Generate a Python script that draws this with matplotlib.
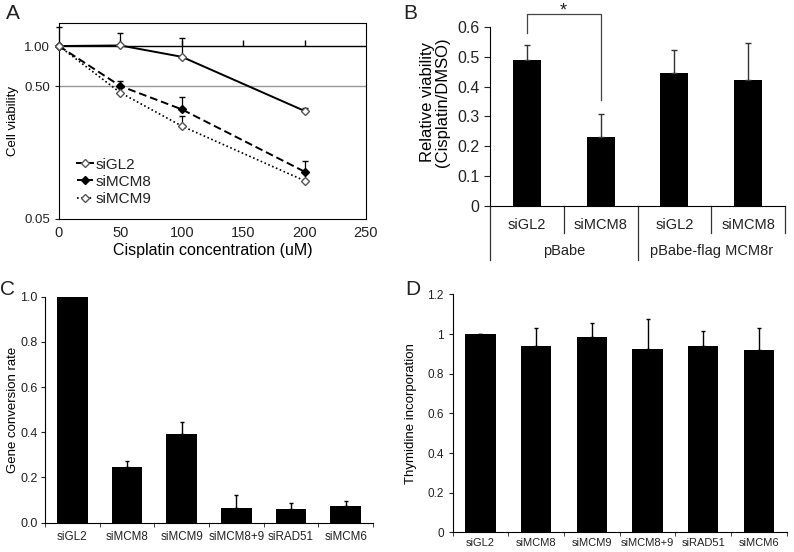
import numpy as np
import matplotlib
matplotlib.use("Agg")
import matplotlib.pyplot as plt
from matplotlib.lines import Line2D
from matplotlib.ticker import FuncFormatter, NullLocator

plt.rcParams['font.family'] = ['Liberation Sans', 'DejaVu Sans']
plt.rcParams['text.color'] = '#222222'
plt.rcParams['xtick.color'] = '#222222'
plt.rcParams['ytick.color'] = '#222222'

# ---- panel A data: cell viability vs cisplatin
conc = [0, 50, 100, 200]
via_gl2 = [1.0, 1.01, 0.83, 0.325]
err_gl2 = [0.38, 0.24, 0.325, 0.019]
via_mcm8 = [1.0, 0.50, 0.334, 0.1135]
err_mcm8 = [0.0, 0.05, 0.082, 0.022]
via_mcm9 = [1.0, 0.446, 0.25, 0.097]
err_mcm9 = [0.0, 0.0, 0.048, 0.0]
a_xticks = [0, 50, 100, 150, 200, 250]

# ---- panel B data
b_labels = ['siGL2', 'siMCM8', 'siGL2', 'siMCM8']
b_groups = ['pBabe', 'pBabe-flag MCM8r']
b_vals = [0.49, 0.232, 0.447, 0.424]
b_err = [0.05, 0.078, 0.076, 0.124]

# ---- panel C data
c_labels = ['siGL2', 'siMCM8', 'siMCM9', 'siMCM8+9', 'siRAD51', 'siMCM6']
c_vals = [1.0, 0.245, 0.394, 0.064, 0.061, 0.073]
c_err = [0.003, 0.028, 0.050, 0.059, 0.027, 0.022]

# ---- panel D data
d_labels = ['siGL2', 'siMCM8', 'siMCM9', 'siMCM8+9', 'siRAD51', 'siMCM6']
d_vals = [1.0, 0.942, 0.986, 0.926, 0.942, 0.919]
d_err = [0.003, 0.088, 0.069, 0.15, 0.076, 0.111]

fig = plt.figure(figsize=(7.94, 5.52), dpi=100)

fmt_g = FuncFormatter(lambda v, p: f"{v:g}")

# ================= A
ax = fig.add_axes([0.0743, 0.6033, 0.3866, 0.355])
ax.set_yscale('log')
ax.axhline(1.0, color='k', lw=1.0, zorder=1)
ax.axhline(0.5, color='#999999', lw=1.0, zorder=1)
ax.plot(a_xticks[1:-1], [1.0] * len(a_xticks[1:-1]), ls='none', marker=2,
        ms=4, color='k', mew=1)
styles = [
    ('siGL2', via_gl2, err_gl2, '-', 1.4, 'white', '#555555'),
    ('siMCM8', via_mcm8, err_mcm8, (0, (4, 2)), 1.4, 'k', 'k'),
    ('siMCM9', via_mcm9, err_mcm9, (0, (1, 1.5)), 1.2, 'white', '#555555'),
]
handles = []
for name, vals, err, ls, lw, fc, ec in styles:
    ax.errorbar(conc, vals, yerr=[np.zeros(len(vals)), err], color='k', lw=lw,
                ls=ls, marker='D', ms=4, mfc=fc, mec=ec, ecolor='k',
                elinewidth=0.9, capsize=2, clip_on=False, zorder=4)
    handles.append(Line2D([], [], color='k', lw=lw, ls=ls, marker='D', ms=4,
                          mfc=fc, mec=ec, label=name))
ax.set_xlim(0, 250)
ax.set_ylim(0.05, 1.49)
ax.set_xticks(a_xticks)
ax.set_yticks([0.05, 0.5, 1.0])
ax.set_yticklabels(['0.05', '0.50', '1.00'])
ax.yaxis.set_minor_locator(NullLocator())
ax.tick_params(axis='x', length=0, labelsize=10.5, pad=5)
ax.tick_params(axis='y', length=3, labelsize=9.5)
ax.set_xlabel('Cisplatin concentration (uM)', fontsize=11.5, labelpad=2)
ax.set_ylabel('Cell viability', fontsize=9.5, labelpad=4)
for s in ax.spines.values():
    s.set_linewidth(0.8)
ax.legend(handles=handles, loc='lower left', bbox_to_anchor=(0.03, 0.02),
          frameon=False, fontsize=11, handlelength=1.0, handletextpad=0.2,
          labelspacing=0.2, borderaxespad=0.2)
fig.text(0.008, 0.975, 'A', fontsize=15, va='center', ha='left')

# ================= B
ax = fig.add_axes([0.6171, 0.6268, 0.3716, 0.3243])
xb = np.arange(len(b_vals)) + 0.5
ax.bar(xb, b_vals, width=0.38, color='k', zorder=2)
ax.errorbar(xb, b_vals, yerr=[np.zeros(len(b_vals)), b_err], ls='none',
            ecolor='#333333', elinewidth=1, capsize=2, zorder=3)
ax.set_xlim(0, len(b_vals))
ax.set_ylim(0, 0.6)
ax.set_yticks(np.arange(0, 0.61, 0.1))
ax.yaxis.set_major_formatter(fmt_g)
ax.set_xticks([])
ax.tick_params(axis='y', length=4, labelsize=11.5)
ax.spines['top'].set_visible(False)
ax.spines['right'].set_visible(False)
ax.set_ylabel('Relative viability\n(Cisplatin/DMSO)', fontsize=12, labelpad=5,
              linespacing=1.05, y=0.58)
tr = ax.get_xaxis_transform()
for xv in [1, 3, 4]:
    ax.plot([xv, xv], [0, -0.151], color='#333333', lw=0.9, transform=tr, clip_on=False)
for xv in [0, 2]:
    ax.plot([xv, xv], [0, -0.302], color='#333333', lw=0.9, transform=tr, clip_on=False)
for xv, lab in zip(xb, b_labels):
    ax.text(xv, -0.105, lab, transform=tr, ha='center', va='center', fontsize=10.5)
for i, g in enumerate(b_groups):
    ax.text(2 * i + 1, -0.25, g, transform=tr, ha='center', va='center', fontsize=10.5)
# significance bracket
ax.plot([xb[0], xb[0], xb[1], xb[1]], [0.58, 0.644, 0.644, 0.356],
        color='#444444', lw=0.9, clip_on=False)
ax.text((xb[0] + xb[1]) / 2, 0.652, '*', ha='center', va='center', fontsize=13)
fig.text(0.508, 0.975, 'B', fontsize=15, va='center', ha='left')

# ================= C
ax = fig.add_axes([0.0567, 0.0531, 0.4131, 0.4094])
xc = np.arange(len(c_vals)) + 0.5
ax.bar(xc, c_vals, width=0.56, color='k', zorder=2)
ax.errorbar(xc, c_vals, yerr=[np.zeros(len(c_vals)), c_err], ls='none',
            ecolor='k', elinewidth=1, capsize=1.5, zorder=3)
ax.set_xlim(0, len(c_vals))
ax.set_ylim(0, 1.0)
ax.set_yticks(np.arange(0, 1.01, 0.2))
ax.yaxis.set_major_formatter(FuncFormatter(lambda v, p: f"{v:.1f}"))
ax.set_xticks(xc)
ax.set_xticklabels(c_labels)
ax.set_xticks(np.arange(len(c_vals) + 1), minor=True)
ax.tick_params(axis='x', which='major', length=0, labelsize=8.4, pad=6)
ax.tick_params(axis='x', which='minor', length=3)
ax.tick_params(axis='y', length=3, labelsize=9, pad=2.5)
ax.spines['top'].set_visible(False)
ax.spines['right'].set_visible(False)
ax.set_ylabel('Gene conversion rate', fontsize=9.5, labelpad=1)
fig.text(0.0, 0.475, 'C', fontsize=15, va='center', ha='left')

# ================= D
ax = fig.add_axes([0.5701, 0.0357, 0.4207, 0.4308])
xd = np.arange(len(d_vals)) + 0.5
ax.bar(xd, d_vals, width=0.54, color='k', zorder=2)
ax.errorbar(xd, d_vals, yerr=[np.zeros(len(d_vals)), d_err], ls='none',
            ecolor='k', elinewidth=1, capsize=1.5, zorder=3)
ax.set_xlim(0, len(d_vals))
ax.set_ylim(0, 1.2)
ax.set_yticks(np.arange(0, 1.21, 0.2))
ax.yaxis.set_major_formatter(fmt_g)
ax.set_xticks(xd)
ax.set_xticklabels(d_labels)
ax.set_xticks(np.arange(len(d_vals) + 1), minor=True)
ax.tick_params(axis='x', which='major', length=0, labelsize=8, pad=4)
ax.tick_params(axis='x', which='minor', length=3)
ax.tick_params(axis='y', length=3, labelsize=8.5)
ax.spines['top'].set_visible(False)
ax.spines['right'].set_visible(False)
ax.set_ylabel('Thymidine incorporation', fontsize=9.5, labelpad=7)
fig.text(0.511, 0.475, 'D', fontsize=15, va='center', ha='left')

fig.savefig('out.png', dpi=100)
